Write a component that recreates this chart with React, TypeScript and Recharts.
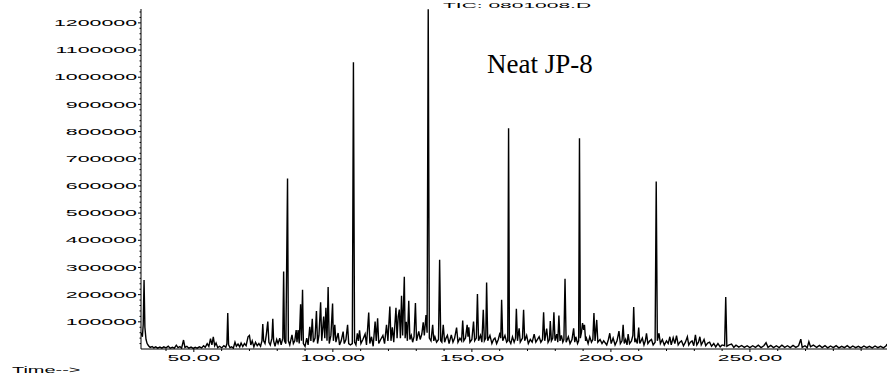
import React from "react";
import { LineChart, Line, XAxis, YAxis } from "recharts";

// Chromatogram trace: [retention time, abundance]
const traceEarly: [number, number][] = [
  [31.0, 60000], [31.5, 45000], [31.8, 90000], [32.1, 254000], [32.4, 80000], [32.8, 35000],
  [33.2, 20000], [33.7, 12000], [34.3, 6000], [35, 9000], [35.6, 4000], [36.3, 8000], [37, 3000],
  [37.8, 7000], [38.5, 3000], [39.2, 8000], [40, 4000], [40.8, 10000], [41.5, 3000], [42.3, 6000],
  [43, 3000], [43.7, 14000], [44.3, 5000], [45, 9000], [45.6, 3000], [46.3, 33000], [46.8, 6000],
  [47.5, 10000], [48.2, 3000], [49, 7000], [49.8, 2000], [50.5, 6000], [51.2, 3000], [52, 8000],
  [52.8, 4000], [53.5, 12000], [54.1, 6000], [54.8, 20000], [55.4, 10000], [56, 38000], [56.5, 15000],
  [57, 45000], [57.5, 12000], [58, 22000], [58.6, 5000], [59.3, 10000], [60, 4000], [60.8, 12000],
  [61.5, 6000], [61.9, 20000], [62.2, 132000], [62.5, 15000], [63, 5000], [63.6, 8000], [64.2, 3000],
  [64.8, 25000], [65.3, 10000], [65.9, 18000], [66.5, 8000], [67, 22000], [67.6, 9000], [68.2, 20000],
  [68.8, 12000], [69.5, 45000], [70, 50000], [70.5, 15000], [71, 30000], [71.6, 8000], [72.2, 25000],
  [72.8, 12000], [73.4, 20000], [74, 10000], [74.5, 30000], [74.8, 92000], [75.1, 30000], [75.6, 20000],
  [76.1, 55000], [76.6, 101000], [77, 25000], [77.5, 15000], [78.1, 40000], [78.4, 111000], [78.7, 30000],
  [79.2, 10000], [79.8, 35000],
];

const traceMidA: [number, number][] = [
  [80.3, 20000], [80.9, 40000], [81.4, 15000], [82.0, 40000], [82.3, 285000], [82.6, 30000], [83.1, 20000],
  [83.7, 627000], [84.0, 30000], [84.5, 15000], [85.3, 52000], [85.8, 20000], [86.3, 30000], [86.8, 70000],
  [87.1, 25000], [87.5, 70000], [87.9, 20000], [88.4, 165000], [88.7, 30000], [89.1, 218000], [89.4, 20000],
  [90, 10000], [90.6, 40000], [91.1, 15000], [91.7, 82000], [92.1, 30000], [92.6, 111000], [93, 25000],
  [93.6, 40000], [94.1, 140000], [94.5, 20000], [95.0, 50000], [95.6, 172000], [96, 30000], [96.7, 119000],
  [97.1, 40000], [97.5, 152000], [97.9, 30000], [98.3, 228000], [98.7, 20000], [99.3, 50000], [99.9, 167000],
  [100.2, 30000], [100.7, 89000], [101.1, 25000], [101.9, 59000], [102.4, 15000], [103, 30000], [103.7, 64000],
  [104.1, 20000], [104.7, 35000], [105.3, 89000], [105.7, 20000], [106.3, 15000], [107.0, 20000],
  [107.4, 1055000], [107.8, 25000], [108.3, 15000], [108.8, 58000], [109.2, 30000], [109.6, 69000],
  [110.1, 20000], [110.8, 35000], [111.6, 55000], [112.1, 15000], [112.9, 134000], [113.3, 20000],
  [113.9, 45000], [114.5, 10000], [115.2, 101000], [115.6, 30000], [116.1, 113000], [116.5, 20000],
  [117.2, 35000], [118, 50000], [118.6, 20000], [119.3, 89000], [119.8, 30000], [120.5, 156000],
  [120.9, 30000], [121.4, 80000], [121.9, 25000], [122.7, 152000], [123.1, 40000], [123.5, 119000],
  [123.9, 145000], [124.3, 40000], [124.7, 196000], [125.1, 50000], [125.7, 266000], [126.0, 40000],
  [126.4, 100000], [126.8, 30000], [127.3, 177000], [127.7, 35000], [128.2, 50000], [128.7, 25000],
  [129.2, 45000], [129.7, 169000], [130.1, 30000], [130.9, 65000], [131.4, 35000], [132, 55000],
  [132.5, 98000], [132.9, 50000], [133.5, 125000], [133.9, 60000], [134.3, 1250000], [134.7, 40000],
];

const traceMidB: [number, number][] = [
  [135.3, 30000], [135.9, 89000], [136.3, 30000], [136.7, 45000], [137.3, 25000], [138.0, 35000],
  [138.4, 328000], [138.8, 30000], [139.2, 25000], [139.7, 89000], [140.2, 25000], [140.7, 40000],
  [141.2, 50000], [141.8, 20000], [142.6, 52000], [143.2, 25000], [143.8, 40000], [144.5, 79000],
  [145, 25000], [145.7, 40000], [146.3, 30000], [146.7, 105000], [147.1, 30000], [147.7, 40000],
  [148.3, 89000], [148.6, 45000], [148.9, 80000], [149.3, 25000], [150, 35000], [150.6, 101000],
  [151, 30000], [151.6, 40000], [152.0, 202000], [152.4, 30000], [153.1, 50000], [153.6, 25000],
  [154.1, 144000], [154.5, 30000], [155.0, 40000], [155.3, 245000], [155.7, 30000], [156.5, 50000],
  [157.2, 20000], [157.8, 35000], [158.3, 40000], [158.9, 20000], [159.5, 35000], [160.1, 60000],
  [160.4, 40000], [160.7, 181000], [161.1, 30000], [161.9, 50000], [162.5, 25000], [162.9, 30000],
  [163.2, 812000], [163.5, 30000], [164, 20000], [164.6, 45000], [165.2, 25000], [165.7, 40000],
  [166.0, 148000], [166.4, 30000], [167.0, 76000], [167.4, 25000], [168.2, 40000], [168.6, 144000],
  [169, 30000], [169.7, 50000], [170.3, 20000], [171, 35000], [171.7, 25000], [172.4, 55000],
  [173, 25000], [173.6, 35000], [174.2, 45000], [174.8, 25000], [175.4, 35000], [175.8, 135000],
  [176.2, 30000], [176.9, 75000], [177.4, 25000], [177.9, 35000], [178.2, 103000], [178.6, 30000],
  [179.1, 40000], [179.5, 135000], [179.9, 30000], [180.5, 55000], [180.9, 25000], [181.3, 123000],
  [181.7, 30000], [182.2, 50000], [182.7, 25000], [183.1, 35000], [183.5, 258000], [183.9, 25000],
  [184.7, 45000], [185.3, 20000], [186, 35000], [186.6, 76000], [187, 25000], [187.4, 45000],
  [188.0, 20000], [188.4, 30000], [188.7, 775000], [189.0, 40000], [189.4, 60000], [189.8, 95000],
  [190.2, 70000], [190.5, 89000], [190.9, 30000], [191.2, 40000], [191.8, 20000], [192.4, 45000],
  [193, 25000], [193.5, 35000], [193.9, 132000], [194.3, 30000], [194.9, 107000], [195.3, 25000],
  [196.1, 35000], [196.8, 20000], [197.4, 30000],
];

const traceLate: [number, number][] = [
  [198.5, 15000], [199.1, 35000], [199.6, 58000], [200.1, 20000], [200.8, 40000], [201.5, 15000],
  [202.2, 30000], [202.9, 66000], [203.4, 20000], [204.0, 30000], [204.4, 89000], [204.8, 20000],
  [205.3, 35000], [205.8, 15000], [206.2, 55000], [206.7, 20000], [207.4, 30000], [207.9, 50000],
  [208.2, 154000], [208.6, 25000], [209, 35000], [209.5, 20000], [210, 79000], [210.4, 20000],
  [211.3, 40000], [211.9, 15000], [212.4, 30000], [212.8, 58000], [213.3, 20000], [214, 30000],
  [214.6, 35000], [215.2, 15000], [215.9, 25000], [216.3, 616000], [216.7, 30000], [217.3, 58000],
  [217.8, 20000], [218.5, 35000], [219.2, 15000], [220, 30000], [220.6, 20000], [221.2, 45000],
  [221.7, 15000], [222.4, 42000], [223, 20000], [223.6, 49000], [224.2, 15000], [224.8, 25000],
  [225.4, 30000], [226.1, 12000], [226.8, 25000], [227.5, 45000], [228, 15000], [228.6, 25000],
  [229.2, 30000], [229.8, 12000], [230.4, 52000], [230.9, 15000], [231.5, 25000], [232, 45000],
  [232.5, 15000], [233, 25000], [233.5, 35000], [234.1, 12000], [234.8, 22000], [235.5, 25000],
  [236.2, 10000], [237, 20000], [237.7, 8000], [238.5, 20000], [239.3, 8000], [240, 15000],
  [240.9, 12000], [241.3, 191000], [241.7, 10000], [242.5, 15000], [243.4, 18000], [244.2, 6000],
];

const traceTail: [number, number][] = [
  [245, 14000], [246, 7000], [247, 13000], [248, 6000], [249, 12000], [250, 5000], [251, 12000],
  [252, 6000], [253, 14000], [254, 5000], [255, 12000], [255.8, 23000], [256.5, 6000], [257.5, 13000],
  [258.5, 5000], [259.5, 12000], [260.5, 5000], [261.5, 14000], [262.5, 6000], [263.5, 12000],
  [264.5, 5000], [265.5, 13000], [266.5, 6000], [267.5, 12000], [268.3, 36000], [268.8, 6000],
  [269.8, 12000], [270.6, 5000], [271.2, 27000], [271.8, 8000], [272.8, 14000], [274, 6000],
  [275, 13000], [276, 5000], [277, 12000], [278, 4000], [279, 11000], [280, 5000], [281, 12000],
  [282, 4000], [283, 10000], [284, 5000], [285, 12000], [286, 4000], [287, 11000], [288, 5000],
  [289, 10000], [290, 4000], [291, 11000], [292, 5000], [293, 10000], [294, 4000], [295, 11000],
  [296, 5000], [297, 10000], [298, 4000], [299, 12000], [299.3, 18000],
];

const xTicks: number[] = [40, 50, 60, 70, 80, 90, 100, 110, 120, 130, 140, 150, 160, 170, 180, 190, 200, 210, 220, 230, 240, 250, 260, 270, 280, 290];
const xLabelTicks: number[] = [50, 100, 150, 200, 250];
const yMajorTicks: number[] = [100000, 200000, 300000, 400000, 500000, 600000, 700000, 800000, 900000, 1000000, 1100000, 1200000];
const yMinorTicks: number[] = [
  20000, 40000, 60000, 80000, 120000, 140000, 160000, 180000, 220000, 240000, 260000, 280000,
  320000, 340000, 360000, 380000, 420000, 440000, 460000, 480000, 520000, 540000, 560000, 580000,
  620000, 640000, 660000, 680000, 720000, 740000, 760000, 780000, 820000, 840000, 860000, 880000,
  920000, 940000, 960000, 980000, 1020000, 1040000, 1060000, 1080000, 1120000, 1140000, 1160000,
  1180000, 1220000, 1240000,
];

const titleText = "TIC: 0801008.D";
const sampleText = "Neat JP-8";
const timeText = "Time-->";

const data = [...traceEarly, ...traceMidA, ...traceMidB, ...traceLate, ...traceTail].map(([t, v]) => ({ t, v }));
const yTicks = [...yMajorTicks, ...yMinorTicks].sort((a, b) => a - b);

const SANS = '"Liberation Sans", Arial, Helvetica, sans-serif';

const YTick = (props: any) => {
  const { x, y, payload } = props;
  const v = payload.value as number;
  const major = yMajorTicks.includes(v);
  return (
    <g>
      <line x1={x - (major ? 3 : 1.5)} x2={x} y1={y} y2={y} stroke="#000" strokeWidth={1} />
      {major && (
        <text
          transform={`translate(${x - 4},${y}) scale(2.25,1)`}
          textAnchor="end"
          dominantBaseline="central"
          fontSize={9.5}
          fontFamily={SANS}
          fill="#000"
        >
          {v}
        </text>
      )}
    </g>
  );
};

const XTick = (props: any) => {
  const { x, y, payload } = props;
  const v = payload.value as number;
  const major = xLabelTicks.includes(v);
  return (
    <g>
      <line x1={x} x2={x} y1={y} y2={y + (major ? 3 : 2)} stroke="#000" strokeWidth={1} />
      {major && (
        <text
          transform={`translate(${x},${y + 8.5}) scale(2.22,1)`}
          textAnchor="middle"
          dominantBaseline="central"
          fontSize={9.5}
          fontFamily={SANS}
          fill="#000"
        >
          {v.toFixed(2)}
        </text>
      )}
    </g>
  );
};

export default function App() {
  return (
    <div style={{ position: "absolute", left: 0, top: 0, width: 888, height: 381, background: "#fff" }}>
      <LineChart width={888} height={381} data={data} margin={{ top: 9, right: 1, bottom: 0, left: 0 }}>
        <XAxis
          dataKey="t"
          type="number"
          domain={[31, 299.3]}
          allowDataOverflow
          ticks={xTicks}
          interval={0}
          tickSize={0}
          tickMargin={0}
          height={32}
          tick={<XTick />}
          axisLine={{ stroke: "#000", strokeWidth: 1 }}
        />
        <YAxis
          type="number"
          domain={[0, 1251000]}
          allowDataOverflow
          ticks={yTicks}
          interval={0}
          tickSize={0}
          tickMargin={0}
          width={141}
          tick={<YTick />}
          axisLine={{ stroke: "#000", strokeWidth: 1 }}
        />
        <Line
          type="linear"
          dataKey="v"
          stroke="#000"
          strokeWidth={1.4}
          dot={false}
          activeDot={false}
          isAnimationActive={false}
        />
      </LineChart>
      <svg width={888} height={381} style={{ position: "absolute", left: 0, top: 0, pointerEvents: "none" }}>
        <text transform="translate(443,8.3) scale(2.8,1)" fontSize={7.5} fontFamily={SANS} fill="#000">
          {titleText}
        </text>
        <text x={487} y={73} fontSize={27} fontFamily='"Liberation Serif", "Times New Roman", serif' fill="#000">
          {sampleText}
        </text>
        <text transform="translate(12,373) scale(2.1,1)" fontSize={9.5} fontFamily={SANS} fill="#000">
          {timeText}
        </text>
      </svg>
    </div>
  );
}
